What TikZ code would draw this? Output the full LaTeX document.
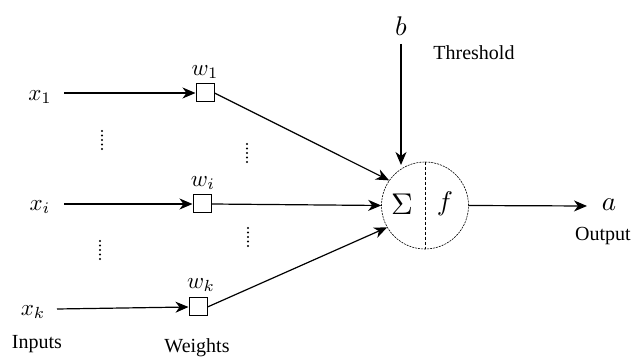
\documentclass[tikz,border=0pt]{standalone}
\usepackage{fontspec}
\setmainfont{Liberation Serif}
\usetikzlibrary{arrows.meta}

\begin{document}
\begin{tikzpicture}[x=1pt, y=-1pt,
    >={Stealth[length=13pt,width=11pt,inset=4pt]},
    wbox/.style={draw, rectangle, minimum size=18pt, inner sep=0pt, line width=1pt},
    lab/.style={font=\fontsize{20}{24}\selectfont, inner sep=0pt},
    sym/.style={scale=2.3, inner sep=0pt},
    big/.style={scale=2.7, inner sep=0pt},
    neuron/.style={draw, circle, minimum size=87pt, inner sep=0pt, line width=0.6pt, dash pattern=on 2pt off 1pt},
    edge/.style={->, line width=1.2pt}]

  \useasboundingbox (0,0) rectangle (633,358);

  % inputs
  \node[sym] (x1) at (40,97)  {$x_1$};
  \node[sym] (xi) at (40,207) {$x_i$};
  \node[sym] (xk) at (33,312) {$x_k$};

  % weights
  \node[wbox] (w1) at (205,93)  {};
  \node[wbox] (wi) at (202,204) {};
  \node[wbox] (wk) at (198,307) {};
  \node[sym] (lw1) at (205,72)  {$w_1$};
  \node[sym] (lwi) at (203,183) {$w_i$};
  \node[sym] (lwk) at (201,285) {$w_k$};

  % neuron
  \node[neuron] (sum) at (425,205.5) {};
  \draw[line width=0.8pt, dash pattern=on 3pt off 2pt] (sum.north) -- (sum.south);
  \node[scale=3, inner sep=0pt] (sig) at (402,204) {$\Sigma$};
  \node[big] (fn) at (445,204) {$f$};

  % threshold and output
  \node[big] (b) at (401,26) {$b$};
  \node[big] (a) at (609,205) {$a$};
  \coordinate (bin) at (401,165);
  \coordinate (out) at (587,206);

  \node[lab] (thr) at (474,53)  {Threshold};
  \node[lab] (outp) at (603,236) {Output};
  \node[lab] (inp) at (37,344)  {Inputs};
  \node[lab] (wts) at (197,348) {Weights};

  \draw[edge] (x1) ++(24,-4) -- (w1.west);
  \draw[edge] (xi) ++(24,-3) -- (wi.west);
  \draw[edge] (xk) ++(24,-3) -- (wk.west);

  \draw[edge] (w1.east) -- (sum.145);
  \draw[edge] (wi.east) -- (sum.west);
  \draw[edge] (wk.east) -- (sum.210);

  \draw[edge] (b) ++(0,18) -- (bin);
  \draw[edge] (sum.east) -- (out);

  % dots
  \foreach \cx/\cy in {102/131, 247/144, 100/241, 248/228}
    \foreach \k in {0,...,4}
      \fill (\cx,\cy+4.5*\k) circle (1.1pt);
\end{tikzpicture}
\end{document}
